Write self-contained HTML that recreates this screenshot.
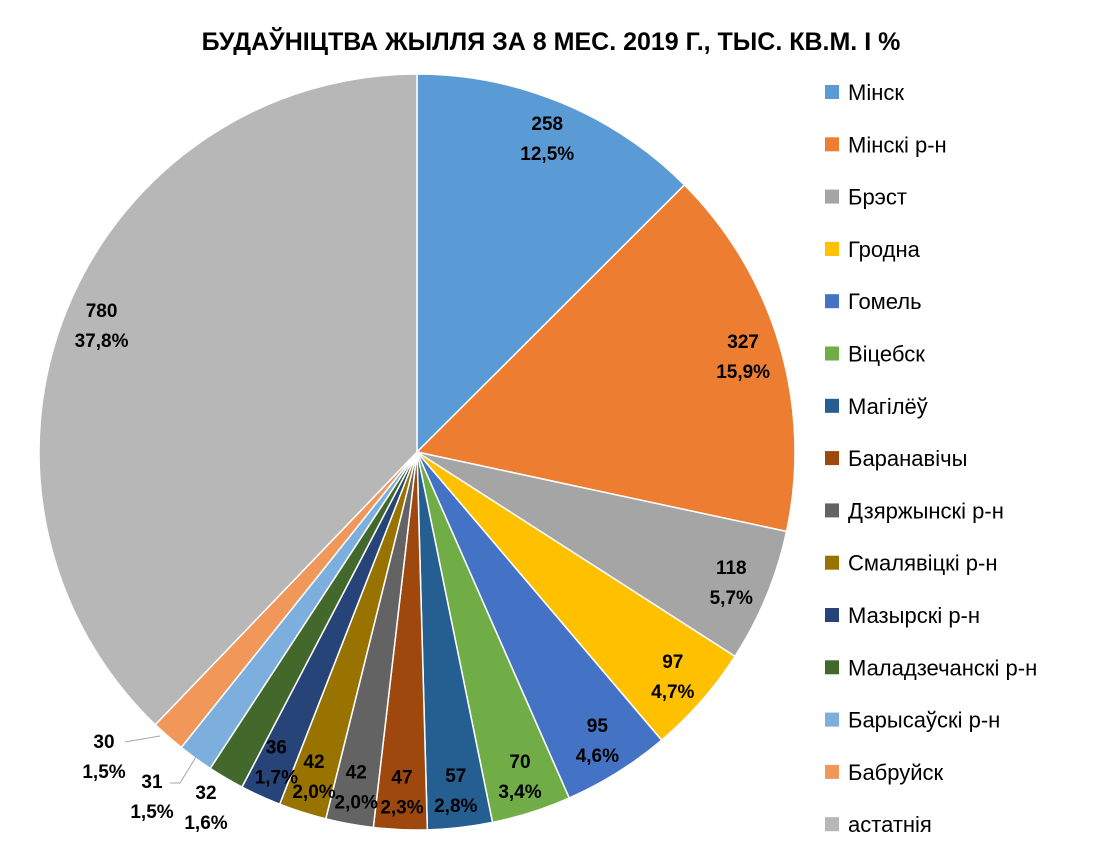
<!DOCTYPE html>
<html><head><meta charset="utf-8"><style>
body{margin:0;background:#fff;}
svg text{font-family:"Liberation Sans",sans-serif;}
</style></head><body>
<svg id="c" width="1102" height="844" xmlns="http://www.w3.org/2000/svg">
<text x="551" y="50" text-anchor="middle" font-size="25" font-weight="bold" fill="#000">БУДАЎНІЦТВА ЖЫЛЛЯ ЗА 8 МЕС. 2019 Г., ТЫС. КВ.М. І %</text>
<g id="slices"></g><g id="labels"></g><g id="legend"></g>
</svg>
<script>
const categories=["Мінск","Мінскі р-н","Брэст","Гродна","Гомель","Віцебск","Магілёў","Баранавічы","Дзяржынскі р-н","Смалявіцкі р-н","Мазырскі р-н","Маладзечанскі р-н","Барысаўскі р-н","Бабруйск","астатнія"];
const values=[258,327,118,97,95,70,57,47,42,42,36,32,31,30,780];
const colors=["#5B9BD5","#ED7D31","#A5A5A5","#FFC000","#4472C4","#70AD47","#255E91","#9E480E","#636363","#997300","#264478","#43682B","#7CAFDD","#F1975A","#B7B7B7"];
const NS="http://www.w3.org/2000/svg";
const cx=417,cy=452,R=378,LR=340;
const total=values.reduce((a,b)=>a+b,0);
function pt(a,r){return [cx+r*Math.sin(a),cy-r*Math.cos(a)];}
function mk(t,at){const e=document.createElementNS(NS,t);for(const k in at)e.setAttribute(k,at[k]);return e;}
const sg=document.getElementById('slices'),lg=document.getElementById('labels'),leg=document.getElementById('legend');
// outside label placements for small slices (index -> [x,y,leader])
const outside={11:[206,792,null],12:[152,781,"M170,783 L180,783 L196,757"],13:[104,741,"M125,742 L160,736"]};
let cum=0;
values.forEach((v,i)=>{
  const a0=cum/total*2*Math.PI;cum+=v;const a1=cum/total*2*Math.PI;
  const p0=pt(a0,R),p1=pt(a1,R);const large=(a1-a0)>Math.PI?1:0;
  const p=mk('path',{d:`M${cx},${cy} L${p0[0]},${p0[1]} A${R},${R} 0 ${large} 1 ${p1[0]},${p1[1]} Z`,fill:colors[i],stroke:'#fff','stroke-width':1.5});
  
  
  sg.appendChild(p);
  const pct=(v/total*100).toFixed(1).replace('.',',')+'%';
  let x,y;
  if(outside[i]){x=outside[i][0];y=outside[i][1];
    if(outside[i][2]){const l=mk('path',{d:outside[i][2],stroke:'#A6A6A6',fill:'none','stroke-width':1});
      
      
      lg.appendChild(l);}
  } else {const m=pt((a0+a1)/2,LR);x=m[0];y=m[1]-15;}
  const t=mk('text',{x:x,y:y+7,'text-anchor':'middle','font-size':19,'font-weight':'bold',fill:'#000'});
  
  
  const s1=mk('tspan',{x:x});s1.textContent=v;
  const s2=mk('tspan',{x:x,dy:30});s2.textContent=pct;
  t.appendChild(s1);t.appendChild(s2);lg.appendChild(t);
  const ly=92+i*52.3;
  const g=mk('g',{});
  
  
  g.appendChild(mk('rect',{x:825,y:ly-7,width:14,height:14,fill:colors[i]}));
  const lt=mk('text',{x:848,y:ly+8,'font-size':22,fill:'#000'});lt.textContent=categories[i];
  g.appendChild(lt);leg.appendChild(g);
});
</script>
</body></html>
